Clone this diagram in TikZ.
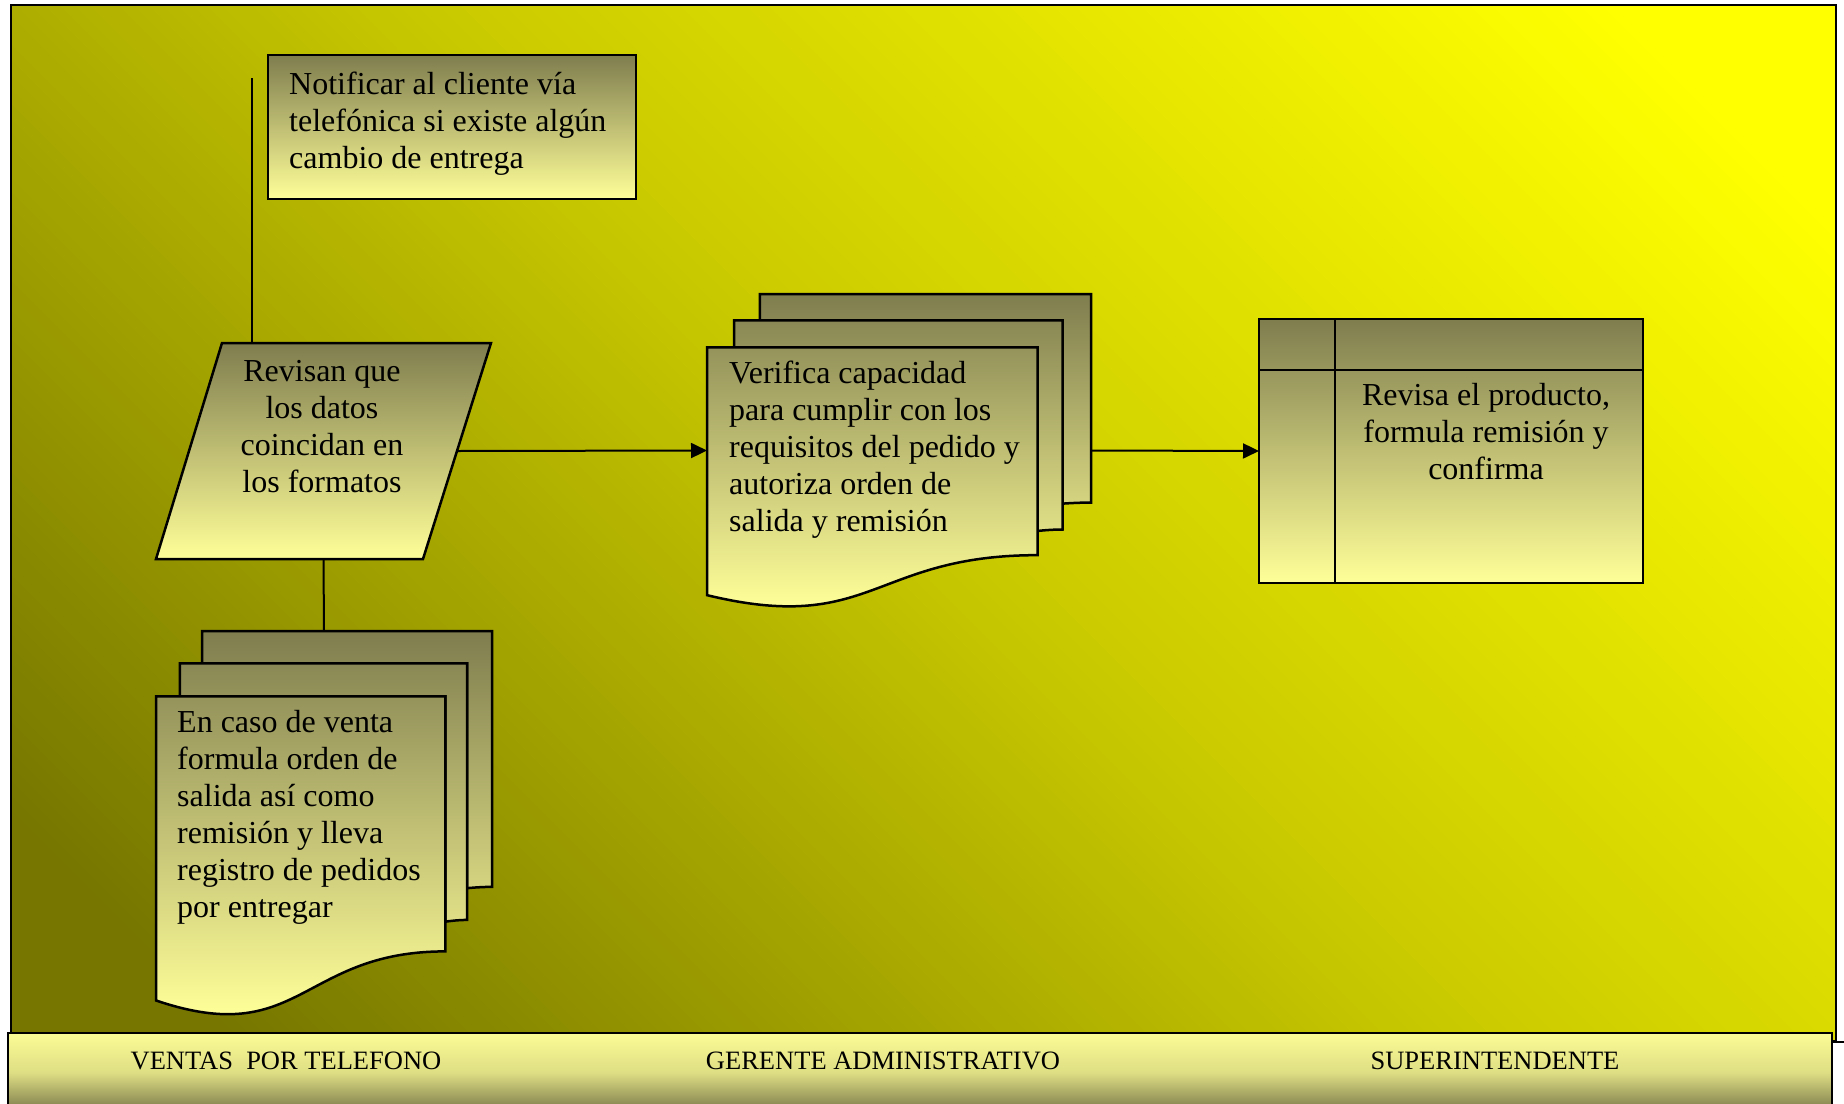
\documentclass[tikz,border=0pt]{standalone}
\usepackage{fontspec}
\setmainfont{Liberation Serif}
\usetikzlibrary{arrows.meta}

\definecolor{bgtop}{RGB}{255,255,0}
\definecolor{bgmid}{RGB}{200,200,0}
\definecolor{bgbot}{RGB}{118,118,0}
\definecolor{shtop}{RGB}{127,125,78}
\definecolor{shbot}{RGB}{255,255,153}
\definecolor{striptop}{RGB}{252,252,150}
\definecolor{stripmid}{RGB}{222,222,132}
\definecolor{stripbot}{RGB}{122,120,74}

% diagonal background: stops chosen so the rotated shading spans corner to corner
\pgfdeclareverticalshading{lanebg}{100bp}{color(0bp)=(bgbot); color(20bp)=(bgbot);
  color(50bp)=(bgmid); color(80bp)=(bgtop); color(100bp)=(bgtop)}

\tikzset{
  outline/.style={draw=black, line width=2.5pt, line join=miter},
  boxshade/.style={top color=shtop, bottom color=shbot},
  link/.style={draw=black, line width=2pt},
  flow/.style={link, -{Triangle[length=16pt,width=15pt]}},
  bodytext/.style={font=\fontsize{32}{37}\selectfont, inner sep=0pt},
  lanetext/.style={font=\fontsize{26.5}{30}\selectfont, inner sep=0pt},
}

% Stacked-document symbol: #1 = top-left corner, #2 = width, #3 = height,
% #4 = prefix for the connection coordinates. Inner units: 216 x 216.
\newcommand{\stackdoc}[4]{%
  \pgfmathsetmacro{\sdx}{#2/216}%
  \pgfmathsetmacro{\sdy}{-#3/216}%
  \begin{scope}[shift={(#1)}, x=\sdx pt, y=\sdy pt]
    % back sheet
    \begin{scope}
      \clip (29.72,18.15) -- (29.72,0) -- (216,0) -- (216,143.92)
        .. controls (208,143.92) and (200,144.67) .. (200,144.67)
        -- (200,18.15) -- cycle;
      \shade[boxshade] (0,0) rectangle (216,216);
    \end{scope}
    \draw[outline] (29.72,18.15) -- (29.72,0) -- (216,0) -- (216,143.92)
        .. controls (208,143.92) and (200,144.67) .. (200,144.67)
        -- (200,18.15) -- cycle;
    % middle sheet
    \begin{scope}
      \clip (15.32,36.75) -- (15.32,18.15) -- (200,18.15) -- (200,162.52)
        .. controls (192.98,162.52) and (185.95,163.52) .. (185.95,163.52)
        -- (185.95,36.75) -- cycle;
      \shade[boxshade] (0,0) rectangle (216,216);
    \end{scope}
    \draw[outline] (15.32,36.75) -- (15.32,18.15) -- (200,18.15) -- (200,162.52)
        .. controls (192.98,162.52) and (185.95,163.52) .. (185.95,163.52)
        -- (185.95,36.75) -- cycle;
    % front sheet
    \begin{scope}
      \clip (0,207.82) .. controls (92.98,235.42) and (92.98,180.22) .. (185.95,180.22)
        -- (185.95,36.75) -- (0,36.75) -- cycle;
      \shade[boxshade] (0,0) rectangle (216,216);
    \end{scope}
    \draw[outline] (0,207.82) .. controls (92.98,235.42) and (92.98,180.22) .. (185.95,180.22)
        -- (185.95,36.75) -- (0,36.75) -- cycle;
    \coordinate (#4-n) at (108,0);
    \coordinate (#4-w) at (0,108);
    \coordinate (#4-e) at (216,108);
  \end{scope}}

\begin{document}
\begin{tikzpicture}[x=1pt, y=-1pt]
  \useasboundingbox (0,0) rectangle (1844,1103);
  \fill[white] (0,0) rectangle (1844,1103);

  % swimlane area
  \shade[shading=lanebg, shading angle=-45] (11,5) rectangle (1836,1041);
  \draw[outline] (11,5) rectangle (1836,1041);
  \draw[outline] (1832,1042) -- (1844,1042);

  % lane titles
  \shade[top color=striptop, bottom color=stripbot, middle color=stripmid]
    (8,1033) rectangle (1832,1112);
  \draw[outline] (8,1112) -- (8,1033) -- (1832,1033) -- (1832,1112);
  \node[lanetext, anchor=base] (lane1) at (286,1069) {VENTAS\ \ POR TELEFONO};
  \node[lanetext, anchor=base] (lane2) at (883,1069) {GERENTE ADMINISTRATIVO};
  \node[lanetext, anchor=base] (lane3) at (1495,1069) {SUPERINTENDENTE};

  % notification box
  \shade[boxshade] (268,55) rectangle (636,199);
  \draw[outline] (268,55) rectangle (636,199);
  \node[bodytext, anchor=base west, align=left] (notify) at (289,168)
    {Notificar al cliente vía\\telefónica si existe algún\\cambio de entrega};

  % data check (parallelogram)
  \shade[boxshade] (222,343) -- (491,343) -- (423,559) -- (156,559) -- cycle;
  \draw[outline] (222,343) -- (491,343) -- (423,559) -- (156,559) -- cycle;
  \node[bodytext, anchor=base, align=center] (check) at (322,492)
    {Revisan que\\los datos\\coincidan en\\los formatos};
  \coordinate (check-n) at (252,343);
  \coordinate (check-s) at (323.5,559);
  \coordinate (check-e) at (457,451);
  \coordinate (notify-tail) at (252,78);

  % capacity check documents
  \stackdoc{707,294}{384}{313}{verify}
  \node[bodytext, anchor=base west, align=left] (verifytext) at (729,531)
    {Verifica capacidad\\para cumplir con los\\requisitos del pedido y\\autoriza orden de\\salida y remisión};

  % sale documents
  \stackdoc{156,631}{336}{384}{sale}
  \node[bodytext, anchor=base west, align=left] (saletext) at (177,917)
    {En caso de venta\\formula orden de\\salida así como\\remisión y lleva\\registro de pedidos\\por entregar};

  % product review (internal storage)
  \shade[boxshade] (1259,319) rectangle (1643,583);
  \draw[outline] (1259,319) rectangle (1643,583);
  \draw[outline] (1335,319) -- (1335,583);
  \draw[outline] (1259,370) -- (1643,370);
  \node[bodytext, anchor=base, align=center] (review) at (1486,479)
    {Revisa el producto,\\formula remisión y\\confirma};
  \coordinate (review-w) at (1259,451);

  % connectors
  \draw[link] (check-n) -- (notify-tail);
  \draw[link] (check-s) -- (sale-n);
  \draw[flow] (check-e) -- (verify-w);
  \draw[flow] (verify-e) -- (review-w);
\end{tikzpicture}
\end{document}
